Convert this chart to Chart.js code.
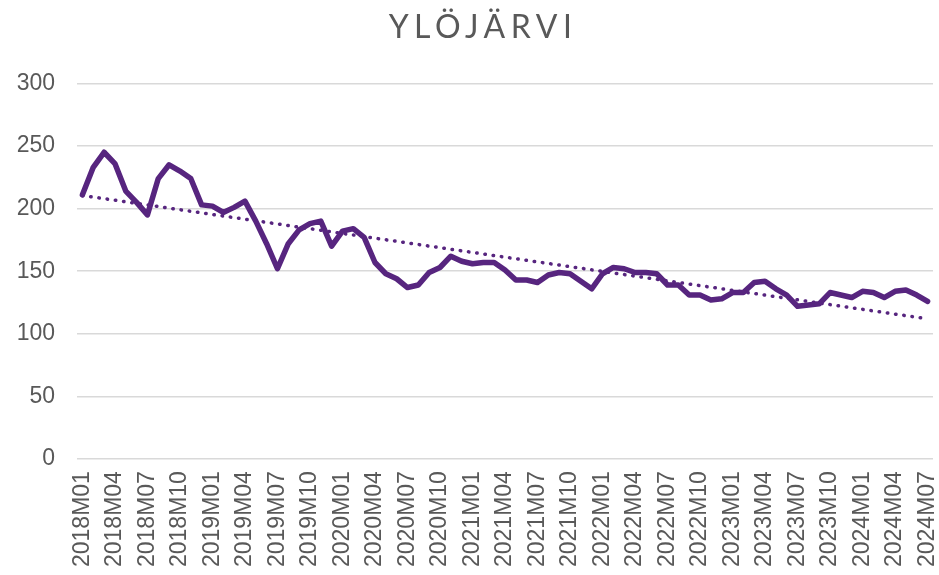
<!DOCTYPE html>
<html>
<head>
<meta charset="utf-8">
<script src="https://cdn.jsdelivr.net/npm/chart.js@4/dist/chart.umd.min.js"></script>
<style>
html,body{margin:0;padding:0;background:#fff;}
#wrap{width:939px;height:575px;position:relative;}
</style>
</head>
<body>
<div id="wrap"><canvas id="c"></canvas></div>
<script>
const chartTitle = 'YLÖJÄRVI';
const years = [2018, 2019, 2020, 2021, 2022, 2023, 2024];
const monthCodes = ['M01','M02','M03','M04','M05','M06','M07','M08','M09','M10','M11','M12'];
const lastMonthCount2024 = 7;
const values = [
  211, 233, 245, 236, 214, 205, 195, 224, 235, 230, 224, 203,
  202, 197, 201, 206, 190, 172, 152, 172, 183, 188, 190, 170,
  182, 184, 177, 157, 148, 144, 137, 139, 149, 153, 162, 158,
  156, 157, 157, 151, 143, 143, 141, 147, 149, 148, 142, 136,
  148, 153, 152, 149, 149, 148, 139, 139, 131, 131, 127, 128,
  133, 133, 141, 142, 136, 131, 122, 123, 124, 133, 131, 129,
  134, 133, 129, 134, 135, 131, 126
];
const trendStart = 210.5;
const trendEnd = 112;
const yTicks = [0, 50, 100, 150, 200, 250, 300];

const categories = [];
years.forEach(y => {
  const n = (y === 2024) ? lastMonthCount2024 : 12;
  for (let i = 0; i < n; i++) categories.push(y + monthCodes[i]);
});
const trendData = categories.map((_, i) => i === 0 ? trendStart : (i === categories.length - 1 ? trendEnd : null));

const purple = '#57257f';
const ctx = document.getElementById('c');
const chart = new Chart(ctx, {
  type: 'line',
  data: {
    labels: categories,
    datasets: [
      {
        label: 'Ylöjärvi',
        data: values,
        borderColor: purple,
        backgroundColor: purple,
        borderWidth: 5.5,
        pointRadius: 0,
        tension: 0,
        borderJoinStyle: 'round',
        borderCapStyle: 'round',
        order: 1
      },
      {
        label: 'Trend',
        data: trendData,
        borderColor: purple,
        borderWidth: 3.5,
        borderDash: [0.5, 7.8],
        borderCapStyle: 'round',
        pointRadius: 0,
        spanGaps: true,
        tension: 0,
        order: 2
      }
    ]
  },
  options: {
    responsive: true,
    maintainAspectRatio: false,
    animation: false,
    layout: { padding: { left: 17, right: 6, top: 6, bottom: 4 } },
    plugins: {
      legend: { display: false },
      tooltip: { enabled: false },
      title: {
        display: true,
        text: chartTitle,
        color: '#595959',
        font: { family: 'Lato', size: 32, weight: '400' },
        padding: { top: 0, bottom: 39 }
      }
    },
    scales: {
      x: {
        offset: true,
        grid: { display: false, drawTicks: false },
        border: { display: false },
        afterFit: function(s) { s.paddingLeft = 0; s.paddingRight = 0; s.height = s.height - 8; },
        ticks: {
          autoSkip: false,
          maxRotation: 90,
          minRotation: 90,
          padding: 12,
          color: '#595959',
          font: { family: 'Liberation Sans', size: 23 },
          callback: function(v, i) { return i % 3 === 0 ? categories[i] : ''; }
        }
      },
      y: {
        min: 0,
        max: 300,
        afterBuildTicks: function(s) { s.ticks = yTicks.map(v => ({ value: v })); },
        afterFit: function(s) { s.width = 60; },
        grid: { color: '#d9d9d9', lineWidth: 1.5, drawTicks: false },
        border: { display: false },
        ticks: {
          padding: 22,
          color: '#595959',
          font: { family: 'Liberation Sans', size: 23 }
        }
      }
    }
  }
});
if (chart.titleBlock) {
  const orig = chart.titleBlock.draw.bind(chart.titleBlock);
  chart.titleBlock.draw = function() {
    const c = chart.ctx;
    c.save();
    c.translate(8, 2);
    c.letterSpacing = '5.5px';
    orig();
    c.restore();
  };
  chart.draw();
}
</script>
</body>
</html>
